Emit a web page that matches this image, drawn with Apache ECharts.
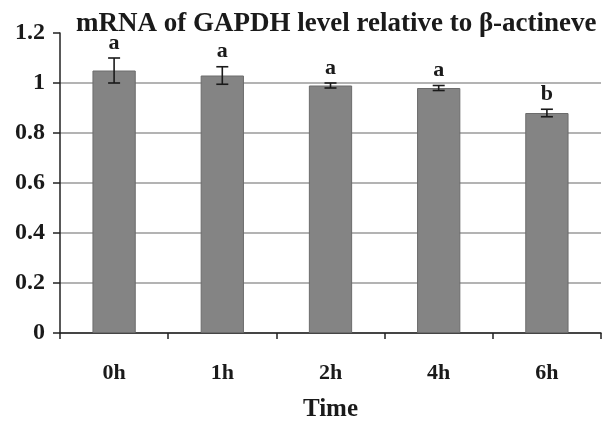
<!DOCTYPE html>
<html lang="en">
<head>
    <meta charset="UTF-8">
    <title>GAPDH mRNA</title>
    <script src="https://cdn.jsdelivr.net/npm/echarts@6/dist/echarts.min.js"></script>
    <style>
        html, body {
            margin: 0;
            padding: 0;
            background: #fff;
        }

        #main {
            width: 607px;
            height: 421px;
        }
    </style>
</head>
<body>
<div id="main"></div>

<script type="text/javascript">
    const times = ['0h', '1h', '2h', '4h', '6h'];
    const levels = [1.05, 1.03, 0.99, 0.98, 0.88];
    const errors = [0.05, 0.035, 0.01, 0.01, 0.015];
    const letters = ['a', 'a', 'a', 'a', 'b'];
    const yTicks = [0, 0.2, 0.4, 0.6, 0.8, 1, 1.2];

    const serif = '"Liberation Serif", "DejaVu Serif", serif';

    let chart = echarts.init(document.getElementById('main'));

    // error bars + significance letters
    function renderErr(params, api) {
        let x = api.value(0);
        let v = api.value(1);
        let e = api.value(2);
        let hi = api.coord([x, v + e]);
        let lo = api.coord([x, v - e]);
        let cap = 6;
        let style = {stroke: '#1a1a1a', lineWidth: 1.6};
        return {
            type: 'group',
            children: [
                {type: 'line', shape: {x1: hi[0], y1: hi[1], x2: lo[0], y2: lo[1]}, style: style},
                {type: 'line', shape: {x1: hi[0] - cap, y1: hi[1], x2: hi[0] + cap, y2: hi[1]}, style: style},
                {type: 'line', shape: {x1: lo[0] - cap, y1: lo[1], x2: lo[0] + cap, y2: lo[1]}, style: style},
                {
                    type: 'text',
                    style: {
                        text: letters[params.dataIndex],
                        x: hi[0],
                        y: hi[1] - 4,
                        align: 'center',
                        verticalAlign: 'bottom',
                        font: 'bold 22px ' + serif,
                        fill: '#1a1a1a'
                    }
                }
            ]
        };
    }

    let option = {
        animation: false,
        backgroundColor: '#fff',
        title: {
            text: 'mRNA of GAPDH level relative to β-actineve',
            left: 76,
            top: 11,
            padding: 0,
            textStyle: {
                fontFamily: serif,
                fontWeight: 'bold',
                fontSize: 27,
                color: '#1a1a1a'
            }
        },
        grid: {
            left: 60,
            right: 6,
            top: 33,
            bottom: 88,
            outerBoundsMode: 'none'
        },
        xAxis: {
            type: 'category',
            data: times,
            name: 'Time',
            nameLocation: 'middle',
            nameGap: 64,
            nameTextStyle: {
                fontFamily: serif,
                fontWeight: 'bold',
                fontSize: 25,
                color: '#1a1a1a'
            },
            axisLine: {lineStyle: {color: '#222', width: 1.5}},
            axisTick: {show: true, length: 6, lineStyle: {color: '#222', width: 1.5}},
            axisLabel: {
                margin: 29,
                fontFamily: serif,
                fontWeight: 'bold',
                fontSize: 22,
                color: '#1a1a1a'
            }
        },
        yAxis: {
            type: 'value',
            min: yTicks[0],
            max: yTicks[yTicks.length - 1],
            interval: 0.2,
            axisLine: {show: true, lineStyle: {color: '#222', width: 1.5}},
            axisTick: {show: true, length: 7, lineStyle: {color: '#222', width: 1.5}},
            axisLabel: {
                margin: 15,
                fontFamily: serif,
                fontWeight: 'bold',
                fontSize: 24,
                color: '#1a1a1a'
            },
            splitLine: {
                show: true,
                lineStyle: {
                    color: ['#9a9a9a', '#9a9a9a', '#9a9a9a', '#9a9a9a', '#9a9a9a', '#9a9a9a', 'rgba(0,0,0,0)'],
                    width: 1.5
                }
            }
        },
        series: [
            {
                type: 'bar',
                data: levels,
                barWidth: '40%',
                itemStyle: {
                    color: '#848484',
                    borderColor: '#6c6c6c',
                    borderWidth: 1
                }
            },
            {
                type: 'custom',
                renderItem: renderErr,
                data: times.map(function (t, i) {
                    return [i, levels[i], errors[i]];
                }),
                z: 5
            }
        ]
    };

    chart.setOption(option);
</script>
</body>
</html>
